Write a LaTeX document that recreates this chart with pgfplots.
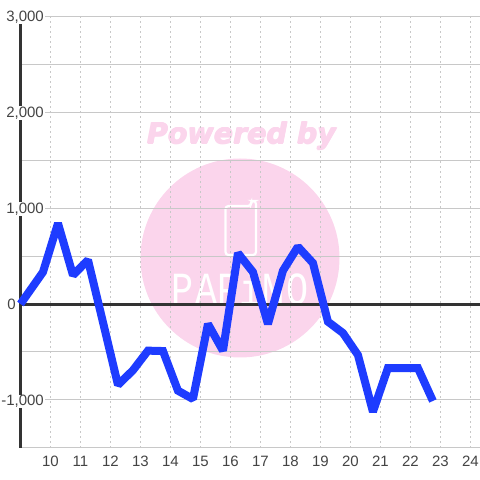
\documentclass[border=0pt]{standalone}
\usepackage{fontspec}
\setmainfont{Liberation Sans}
\newfontfamily\wmfont{DejaVu Sans}
\newfontfamily\logofont{Liberation Mono}
\usepackage{pgfplots}
\pgfplotsset{compat=1.18}
\definecolor{wmpink}{HTML}{FBD5EC}
\definecolor{gridgray}{HTML}{C8C8C8}
\definecolor{spine}{HTML}{333333}
\definecolor{labelgray}{HTML}{444444}
\definecolor{lineblue}{HTML}{1E3CFF}
\begin{document}
\begin{tikzpicture}[x=1pt,y=1pt]
\useasboundingbox (0,0) rectangle (480,480);
% watermark sits under the grid
\fill[wmpink] (240,222) circle (99.5);
\foreach \dx/\dy in {-0.6/0,0/0,0.6/0,0/0.5,0/-0.5}
  \node[wmpink] at (241.5+\dx,344+\dy) {\wmfont\fontsize{28.5}{29}\selectfont\bfseries\itshape Powered by};
\draw[white,line width=2.2pt,rounded corners=3pt] (225.5,225) -- (225.5,274) -- (251,274) -- (251,279) -- (256,279) -- (256,225) -- cycle;
\foreach \cx/\ch in {183/P,207/A,229/P,251/i,274/M,298/O}
  \node[white,xscale=0.8] at (\cx,191) {\logofont\fontsize{46}{46}\selectfont \ch};
\begin{axis}[
    at={(20.5pt,32pt)},
    anchor=south west,
    scale only axis,
    width=459.5pt,
    height=432pt,
    xmin=9, xmax=24.32,
    ymin=-1500, ymax=3000,
    axis line style={draw=none},
    major tick length=0pt,
    minor tick length=0pt,
    clip=false,
    unbounded coords=jump,
    xtick={10,11,...,24},
    ytick={-1000,1000,2000,3000},
    minor ytick={-1500,-500,500,1500,2500},
    extra y ticks={0},
    extra y tick style={
        yticklabel style={xshift=-28pt,fill=none},
    },
    grid=both,
    major grid style={gridgray,line width=1pt},
    minor grid style={gridgray,line width=1pt},
    x grid style={gridgray,line width=1pt,dash pattern=on 2pt off 3pt},
    y grid style={gridgray,line width=1pt},
    /pgf/number format/assume math mode=true,
    /pgf/number format/1000 sep={,},
    ticklabel style={font=\fontsize{15}{15}\selectfont,text=labelgray},
    yticklabel style={anchor=east,xshift=24.5pt,fill=white,inner sep=1pt,text height=12.5pt,text depth=1.5pt},
    xticklabel style={anchor=center,yshift=-13pt,text height=10.5pt,text depth=0pt},
]
% left spine, broken where the tick labels sit
\addplot[spine,line width=3pt,forget plot] coordinates {
 (9,-1500) (9,-1083)
 (9,nan)
 (9,-948) (9,917)
 (9,nan)
 (9,1062) (9,1917)
 (9,nan)
 (9,2062) (9,2917)
};
% zero line
\addplot[spine,line width=3pt,forget plot] coordinates {(9,0) (24.32,0)};
\addplot[lineblue,line width=8pt,miter limit=1.5,line join=miter] coordinates {
 (9,0) (9.75,333) (10.25,840) (10.75,300) (11.25,458) (11.75,-190)
 (12.25,-843) (12.75,-690) (13.25,-486) (13.75,-490) (14.25,-903) (14.75,-990)
 (15.25,-208) (15.75,-486) (16.25,530) (16.75,333) (17.25,-208) (17.75,347)
 (18.25,597) (18.75,427) (19.25,-184) (19.75,-302) (20.25,-531) (20.75,-1122)
 (21.25,-667) (21.75,-667) (22.25,-667) (22.75,-1010)
};
\end{axis}
\end{tikzpicture}
\end{document}
